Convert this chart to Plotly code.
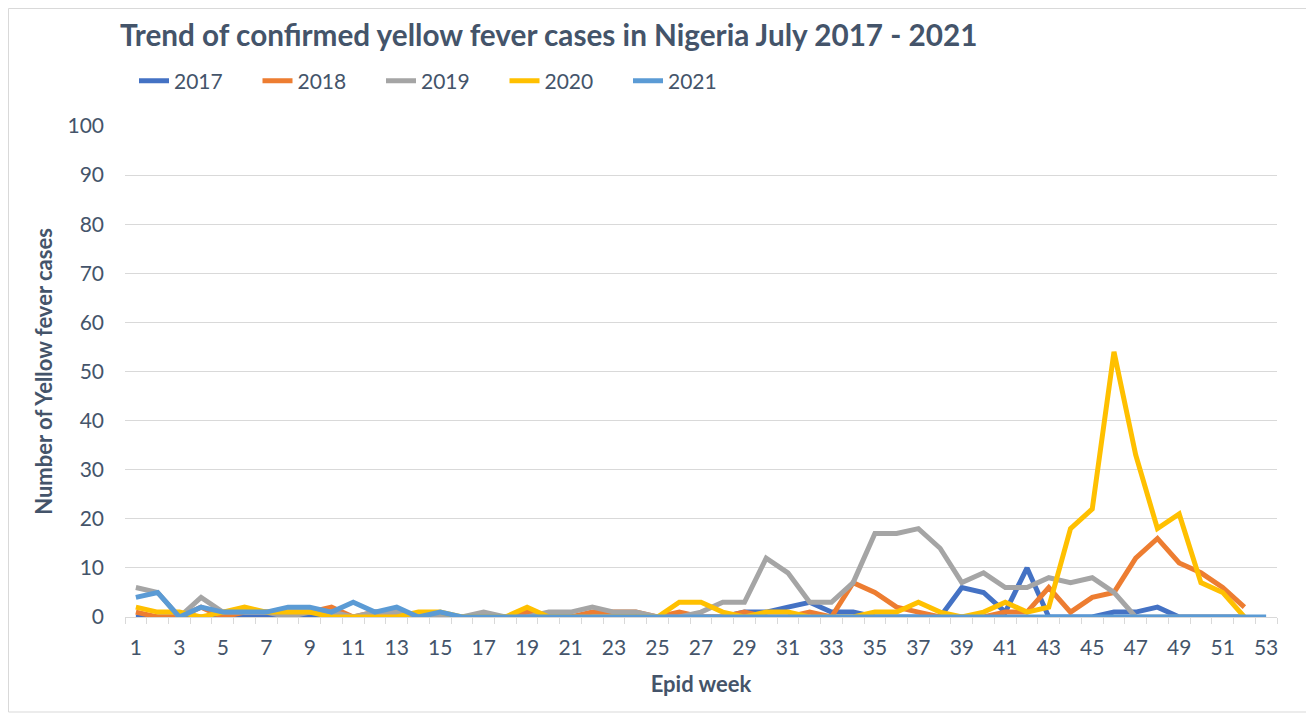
import plotly.graph_objects as go

weeks = list(range(1, 54))
tick_labels = [str(w) for w in range(1, 54, 2)]

y2017 = [0, 0, 0, 0, 0, 0, 0, 0, 0, 0, 0, 0, 0, 0, 0, 0, 0, 0, 0, 0, 0, 0, 0, 0, 0, 0,
         0, 0, 1, 1, 2, 3, 1, 1, 0, 0, 0, 0, 6, 5, 1, 10, 0, 0, 0, 1, 1, 2, 0, 0, 0, 0, None]
y2018 = [1, 0, 0, 2, 0, 1, 1, 1, 1, 2, 0, 1, 1, 0, 0, 0, 0, 0, 1, 0, 0, 1, 1, 1, 0, 1,
         0, 0, 1, 0, 0, 1, 0, 7, 5, 2, 1, 0, 0, 0, 1, 1, 6, 1, 4, 5, 12, 16, 11, 9, 6, 2, None]
y2019 = [6, 5, 0, 4, 1, 1, 1, 0, 1, 1, 0, 1, 1, 0, 0, 0, 1, 0, 0, 1, 1, 2, 1, 1, 0, 0,
         1, 3, 3, 12, 9, 3, 3, 7, 17, 17, 18, 14, 7, 9, 6, 6, 8, 7, 8, 5, 0, 0, 0, 0, 0, 0, None]
y2020 = [2, 1, 1, 0, 1, 2, 1, 1, 1, 0, 0, 0, 0, 1, 1, 0, 0, 0, 2, 0, 0, 0, 0, 0, 0, 3,
         3, 1, 0, 1, 1, 0, 0, 0, 1, 1, 3, 1, 0, 1, 3, 1, 2, 18, 22, 54, 33, 18, 21, 7, 5, 0, None]
y2021 = [4, 5, 0, 2, 1, 1, 1, 2, 2, 1, 3, 1, 2, 0, 1, 0, 0, 0, 0, 0, 0, 0, 0, 0, 0, 0,
         0, 0, 0, 0, 0, 0, 0, 0, 0, 0, 0, 0, 0, 0, 0, 0, 0, 0, 0, 0, 0, 0, 0, 0, 0, 0, 0]

series = [("2017", y2017, "#4472C4"), ("2018", y2018, "#ED7D31"), ("2019", y2019, "#A5A5A5"),
          ("2020", y2020, "#FFC000"), ("2021", y2021, "#5B9BD5")]

FONT = "Lato"
TXT = "#44546A"

W, H = 1306, 707
L, R, T, B = 117, 37, 118, 98
PW, PH = W - L - R, H - T - B

fig = go.Figure()
for name, ys, col in series:
    fig.add_trace(go.Scatter(x=weeks, y=ys, name=name, mode="lines",
                             line=dict(color=col, width=5)))

fig.update_layout(
    width=W, height=H,
    margin=dict(l=L, r=R, t=T, b=B),
    paper_bgcolor="white", plot_bgcolor="white",
    font=dict(family=FONT, color=TXT, size=20),
    title=dict(text="<b>Trend of confirmed yellow fever cases in Nigeria July 2017 - 2021</b>",
               x=112 / W, xanchor="left", xref="container",
               y=1 - 28 / H, yanchor="middle", yref="container",
               font=dict(family=FONT, size=29.7, color=TXT)),
    legend=dict(orientation="h", x=9 / PW, xanchor="left", y=1 + 45 / PH, yanchor="middle",
                font=dict(size=21, color=TXT), entrywidth=78.5, entrywidthmode="pixels",
                traceorder="normal"),
    showlegend=True,
)
fig.update_xaxes(
    range=[0.5, 53.5], tickmode="array", tickvals=list(range(1, 54, 2)), ticktext=tick_labels,
    ticks="", showgrid=False, showline=True, linecolor="#D9D9D9", linewidth=1,
    zeroline=False, tickfont=dict(size=21, color=TXT), ticklabelstandoff=12,
    minor=dict(tickmode="linear", tick0=0.5, dtick=1, ticks="outside", ticklen=6,
               tickcolor="#D9D9D9", showgrid=False),
    title=dict(text="<b>Epid week</b>", font=dict(size=22, color=TXT), standoff=18),
)
fig.update_yaxes(
    range=[0, 100], dtick=10, showgrid=True, gridcolor="#D9D9D9", gridwidth=1,
    zeroline=False, showline=False, ticks="", tickfont=dict(size=21, color=TXT),
    ticklabelstandoff=20,
    title=dict(text="<b>Number of Yellow fever cases</b>", font=dict(size=22, color=TXT), standoff=8),
)
fig.add_shape(type="rect", xref="paper", yref="paper",
              x0=(0.5 - L) / PW, x1=(1301 - L) / PW, y0=(T + PH - 704) / PH, y1=1 + (T - 0.5) / PH,
              line=dict(color="#D9D9D9", width=1), fillcolor="rgba(0,0,0,0)", layer="below")

fig.write_html("out.html")
